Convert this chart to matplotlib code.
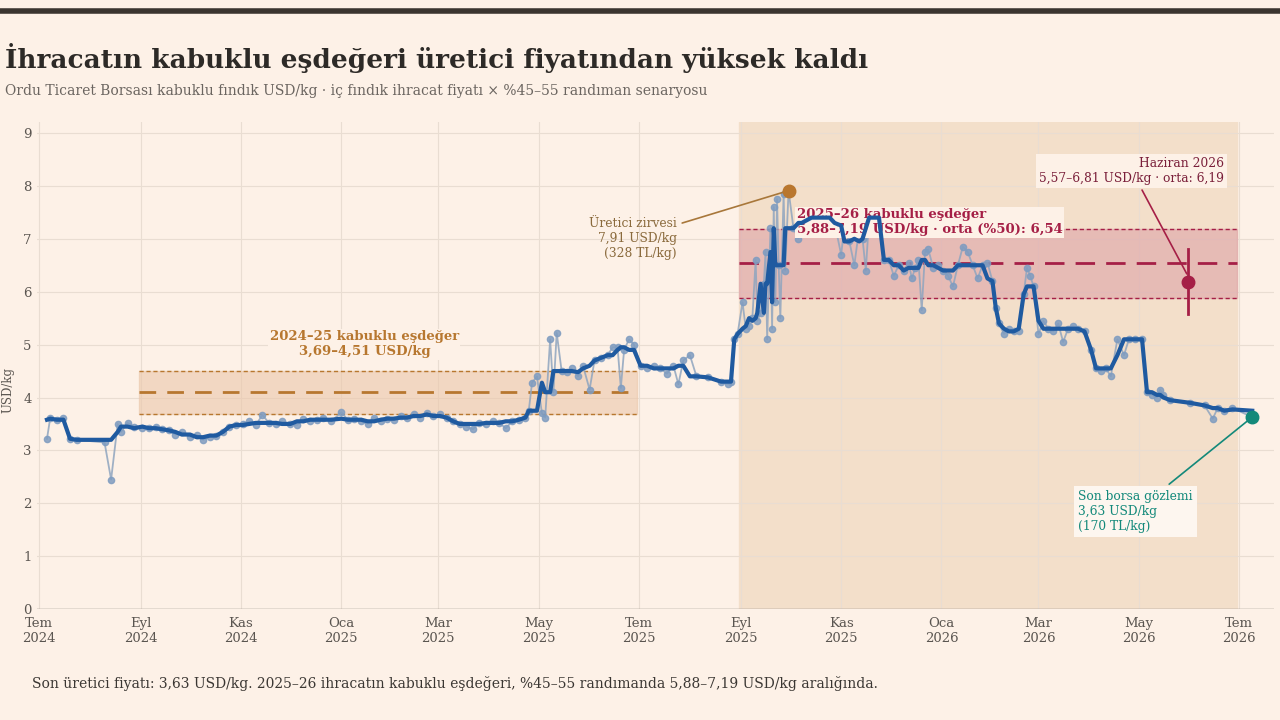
import matplotlib.pyplot as plt
import matplotlib.dates as mdates
import numpy as np
import pandas as pd

plt.rcParams["font.family"] = ["DejaVu Serif"]

obs = """
2024-07-06 3.22;2024-07-08 3.62;2024-07-12 3.58;2024-07-16 3.62;2024-07-20 3.22;2024-07-24 3.20;2024-08-10 3.15;2024-08-14 2.45
2024-08-18 3.50;2024-08-20 3.35;2024-08-24 3.52;2024-08-28 3.45;2024-09-02 3.42;2024-09-06 3.42;2024-09-10 3.45;2024-09-14 3.40
2024-09-18 3.38;2024-09-22 3.30;2024-09-26 3.35;2024-10-01 3.25;2024-10-05 3.30;2024-10-09 3.20;2024-10-13 3.25;2024-10-17 3.28
2024-10-21 3.35;2024-10-25 3.45;2024-10-29 3.48;2024-11-02 3.50;2024-11-06 3.55;2024-11-10 3.48;2024-11-14 3.67;2024-11-18 3.52
2024-11-22 3.50;2024-11-26 3.55;2024-12-01 3.50;2024-12-05 3.48;2024-12-09 3.60;2024-12-13 3.55;2024-12-17 3.58;2024-12-21 3.62
2024-12-26 3.55;2025-01-01 3.72;2025-01-05 3.58;2025-01-09 3.60;2025-01-13 3.55;2025-01-17 3.50;2025-01-21 3.62;2025-01-25 3.55
2025-01-29 3.60;2025-02-02 3.58;2025-02-06 3.65;2025-02-10 3.62;2025-02-14 3.68;2025-02-18 3.62;2025-02-22 3.70;2025-02-26 3.65
2025-03-02 3.68;2025-03-06 3.62;2025-03-10 3.55;2025-03-14 3.50;2025-03-18 3.45;2025-03-22 3.40;2025-03-26 3.52;2025-03-30 3.50
2025-04-03 3.55;2025-04-07 3.52;2025-04-11 3.42;2025-04-15 3.55;2025-04-19 3.58;2025-04-23 3.62;2025-04-25 3.75;2025-04-27 4.28
2025-04-30 4.40;2025-05-03 3.70;2025-05-05 3.62;2025-05-08 5.10;2025-05-10 4.10;2025-05-12 5.22;2025-05-15 4.50;2025-05-18 4.48
2025-05-21 4.55;2025-05-25 4.40;2025-05-28 4.60;2025-06-01 4.15;2025-06-04 4.70;2025-06-08 4.75;2025-06-12 4.80;2025-06-15 4.95
2025-06-18 4.95;2025-06-20 4.18;2025-06-22 4.90;2025-06-25 5.10;2025-06-28 5.00;2025-07-02 4.60;2025-07-06 4.55;2025-07-10 4.60
2025-07-14 4.55;2025-07-18 4.45;2025-07-22 4.60;2025-07-25 4.25;2025-07-28 4.70;2025-08-01 4.80;2025-08-05 4.40;2025-08-12 4.38
2025-08-20 4.30;2025-08-24 4.25;2025-08-26 4.30;2025-08-28 5.10;2025-08-30 5.20;2025-09-02 5.80;2025-09-04 5.30;2025-09-06 5.35
2025-09-08 5.50;2025-09-10 6.60;2025-09-11 5.45;2025-09-13 5.60;2025-09-15 6.15;2025-09-16 6.75;2025-09-17 5.10;2025-09-19 7.20
2025-09-20 5.30;2025-09-21 7.60;2025-09-22 5.80;2025-09-23 7.75;2025-09-24 6.50;2025-09-25 5.50;2025-09-27 7.85;2025-09-28 6.40
2025-09-30 7.91;2025-10-03 7.20;2025-10-06 7.00;2025-10-08 7.30;2025-10-11 7.40;2025-10-14 7.35;2025-10-17 7.40;2025-10-20 7.45
2025-10-23 7.40;2025-10-25 7.40;2025-10-28 7.30;2025-11-01 6.70;2025-11-03 7.25;2025-11-06 6.95;2025-11-09 6.50;2025-11-12 7.20
2025-11-14 7.00;2025-11-16 6.40;2025-11-18 7.40;2025-11-21 7.40;2025-11-24 7.40;2025-11-27 6.60;2025-11-30 6.60;2025-12-03 6.30
2025-12-06 6.50;2025-12-09 6.40;2025-12-12 6.55;2025-12-14 6.25;2025-12-16 6.45;2025-12-18 6.60;2025-12-20 5.65;2025-12-22 6.75
2025-12-24 6.80;2025-12-27 6.45;2025-12-30 6.50;2026-01-02 6.40;2026-01-05 6.30;2026-01-08 6.10;2026-01-11 6.50;2026-01-14 6.85
2026-01-17 6.75;2026-01-20 6.50;2026-01-23 6.25;2026-01-26 6.50;2026-01-29 6.55;2026-02-01 6.20;2026-02-03 5.70;2026-02-05 5.40
2026-02-08 5.20;2026-02-11 5.30;2026-02-14 5.25;2026-02-17 5.25;2026-02-20 5.95;2026-02-22 6.45;2026-02-24 6.30;2026-02-26 6.10
2026-03-01 5.20;2026-03-04 5.45;2026-03-07 5.30;2026-03-10 5.25;2026-03-13 5.40;2026-03-16 5.05;2026-03-19 5.30;2026-03-22 5.35
2026-03-25 5.30;2026-03-29 5.25;2026-04-02 4.90;2026-04-05 4.55;2026-04-08 4.50;2026-04-11 4.55;2026-04-14 4.40;2026-04-18 5.10
2026-04-22 4.80;2026-04-25 5.10;2026-04-29 5.10;2026-05-03 5.10;2026-05-06 4.10;2026-05-09 4.05;2026-05-12 4.00;2026-05-14 4.15
2026-05-16 4.05;2026-05-20 3.95;2026-06-01 3.90;2026-06-10 3.85;2026-06-15 3.60;2026-06-18 3.80;2026-06-22 3.75;2026-06-27 3.80
2026-07-09 3.63
"""
pairs = [p.split() for p in obs.replace("\n", ";").split(";") if p.strip()]
dates = pd.to_datetime([p[0] for p in pairs])
prices = np.array([float(p[1]) for p in pairs])
smooth = pd.Series(prices).rolling(5, center=True, min_periods=1).median().values

band_2425 = (3.69, 4.51)
band_2526 = (5.88, 7.19)
mid_2526 = 6.54
june_2026 = (5.57, 6.19, 6.81)
peak = (pd.Timestamp("2025-09-30"), 7.91)
last = (pd.Timestamp("2026-07-09"), 3.63)

BG = "#fdf1e7"
BLUE = "#1f5aa0"
ORANGE = "#b7772f"
RED = "#a51f46"
TEAL = "#13897a"
TXT = "#3b3733"

fig = plt.figure(figsize=(12.8, 7.2), dpi=100, facecolor=BG)
ax = fig.add_axes([0.029, 0.154, 0.966, 0.676], facecolor=BG)
fig.add_artist(plt.Line2D([0, 1], [0.985, 0.985], color="#3b3530", lw=4))

fig.text(0.004, 0.905, "İhracatın kabuklu eşdeğeri üretici fiyatından yüksek kaldı",
         fontsize=19, fontweight="bold", color="#2d2a27")
fig.text(0.004, 0.868, "Ordu Ticaret Borsası kabuklu fındık USD/kg · iç fındık ihracat fiyatı × %45–55 randıman senaryosu",
         fontsize=10, color="#6b6560")
fig.text(0.025, 0.045, "Son üretici fiyatı: 3,63 USD/kg. 2025–26 ihracatın kabuklu eşdeğeri, %45–55 randımanda 5,88–7,19 USD/kg aralığında.",
         fontsize=10, color=TXT)

s25, e25 = pd.Timestamp("2024-08-31"), pd.Timestamp("2025-06-30")
s26, e26 = pd.Timestamp("2025-08-31"), pd.Timestamp("2026-06-30")
ax.axvspan(s26, e26, color="#f3dfca", zorder=0)

ax.fill_between([s25, e25], *band_2425, color="#ebc7aa", alpha=0.6, zorder=1)
for v in band_2425:
    ax.plot([s25, e25], [v, v], color=ORANGE, ls=(0, (3, 2)), lw=1, zorder=2)
ax.plot([s25, e25], [sum(band_2425) / 2] * 2, color=ORANGE, ls=(0, (6, 4)), lw=2, zorder=2)

ax.fill_between([s26, e26], *band_2526, color="#dea3a8", alpha=0.6, zorder=1)
for v in band_2526:
    ax.plot([s26, e26], [v, v], color=RED, ls=(0, (3, 2)), lw=1, zorder=2)
ax.plot([s26, e26], [mid_2526] * 2, color=RED, ls=(0, (7, 4)), lw=2, zorder=2)

ax.plot(dates, prices, color="#8fa5bf", lw=1.3, marker="o", ms=4.5, mfc="#7f9cc0",
        mec="#7f9cc0", alpha=0.85, zorder=3)
ax.plot(dates, smooth, color=BLUE, lw=3, zorder=4, solid_joinstyle="round")

jd = pd.Timestamp("2026-05-31")
ax.plot([jd, jd], [june_2026[0], june_2026[2]], color=RED, lw=2, zorder=5)
ax.plot(jd, june_2026[1], "o", color=RED, ms=9, zorder=6)
ax.plot(*peak, "o", color="#b9772f", ms=9, zorder=6)
ax.plot(*last, "o", color=TEAL, ms=9, zorder=6)

ax.text(pd.Timestamp("2025-01-15"), 4.74, "2024–25 kabuklu eşdeğer\n3,69–4,51 USD/kg", ha="center",
        va="bottom", fontsize=9.5, fontweight="bold", color=ORANGE, linespacing=1.2,
        bbox=dict(fc=BG, ec="none", pad=1))
ax.text(pd.Timestamp("2025-10-05"), 7.05, "2025–26 kabuklu eşdeğer\n5,88–7,19 USD/kg · orta (%50): 6,54",
        ha="left", va="bottom", fontsize=9.5, fontweight="bold", color=RED, linespacing=1.2,
        bbox=dict(fc=BG, ec="none", pad=1))
ax.annotate("Üretici zirvesi\n7,91 USD/kg\n(328 TL/kg)", xy=peak, xytext=(pd.Timestamp("2025-07-24"), 7.42),
            ha="right", va="top", fontsize=8.8, color="#8a6a3c", linespacing=1.2,
            arrowprops=dict(arrowstyle="-", color="#a8773a", lw=1.2))
ax.annotate("Haziran 2026\n5,57–6,81 USD/kg · orta: 6,19", xy=(jd, june_2026[1] + 0.1),
            xytext=(pd.Timestamp("2026-06-22"), 8.55), ha="right", va="top", fontsize=8.8,
            color="#7a1f3a", linespacing=1.2, bbox=dict(fc=BG, ec="none", pad=2),
            arrowprops=dict(arrowstyle="-", color=RED, lw=1.2))
ax.annotate("Son borsa gözlemi\n3,63 USD/kg\n(170 TL/kg)", xy=last, xytext=(pd.Timestamp("2026-03-25"), 2.25),
            ha="left", va="top", fontsize=8.8, color=TEAL, linespacing=1.2,
            bbox=dict(fc="#fdf6ef", ec="none", pad=3),
            arrowprops=dict(arrowstyle="-", color=TEAL, lw=1.2))

ax.set_xlim(pd.Timestamp("2024-06-30"), pd.Timestamp("2026-07-22"))
ax.set_ylim(0, 9.2)
ax.set_yticks(range(10))
ax.xaxis.set_major_locator(mdates.MonthLocator(bymonth=[1, 3, 5, 7, 9, 11]))
months = {1: "Oca", 3: "Mar", 5: "May", 7: "Tem", 9: "Eyl", 11: "Kas"}
ax.xaxis.set_major_formatter(plt.FuncFormatter(
    lambda v, _: f"{months[mdates.num2date(v).month]}\n{mdates.num2date(v).year}"))
ax.tick_params(colors="#5a5550", labelsize=9.5, length=0, pad=4)
ax.tick_params(axis="x", pad=6)
ax.grid(color="#e9ddd2", lw=0.8)
ax.set_axisbelow(True)
for sp in ax.spines.values():
    sp.set_visible(False)
ax.axhline(0, color="#8a847e", lw=1)
ax.set_ylabel("USD/kg", fontsize=8.5, color="#5a5550", labelpad=2)
ax.yaxis.set_label_coords(-0.018, 0.45)

fig.savefig("out.png", dpi=100, facecolor=BG)
